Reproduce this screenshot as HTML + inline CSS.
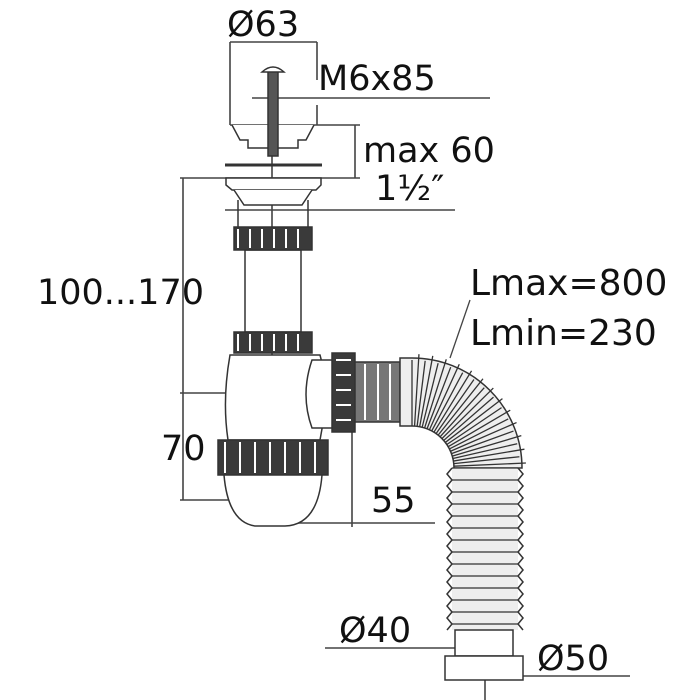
<!DOCTYPE html>
<html><head><meta charset="utf-8"><style>
html,body{margin:0;padding:0;background:#fff;width:673px;height:700px;overflow:hidden}
text{font-family:"DejaVu Sans","Liberation Sans",sans-serif;fill:#111}
</style></head><body>
<svg id="s" width="673" height="700" viewBox="0 0 673 700" xmlns="http://www.w3.org/2000/svg">
<g stroke="#444" stroke-width="1.6" fill="none">
<path d="M230 42H317M230 42V125M317 42V80M317 105V125"/>
<path d="M252 98H490"/>
<path d="M230 125H360M355 125V178M180 178H360"/>
<path d="M225 210H455"/>
<path d="M183 178V500M180 500H290M180 393H355"/>
<path d="M272 150V525M272 523H435M352 430V527"/>
<path d="M325 648H455M520 676H630"/>
<path d="M485 470V700"/>
<path d="M470 300L450 358" stroke-width="1.3"/>
</g>
<g stroke="#333" stroke-width="1.5" fill="#fff">
<path d="M232 125L240 140H248V148H298V140H306L314 125"/>
<rect x="268" y="70" width="10" height="86" fill="#555"/>
<path d="M262 72Q273 62 284 72Z" fill="#fff"/>
<path d="M225 165H322" stroke-width="3"/>
<path d="M226 178H321V185L316 190H232L226 185Z"/>
<path d="M234 190L244 205H302L312 190"/>
<path d="M238 200V228M308 200V228"/>
<rect x="245" y="250" width="56" height="82"/>
<rect x="234" y="227" width="78" height="23" fill="#3a3a3a"/>
<rect x="234" y="332" width="78" height="21" fill="#3a3a3a"/>
<path d="M230 355H320Q330 390 320 440H228Q222 400 230 355Z"/>
<path d="M312 360H335V428H312Q300 395 312 360Z"/>
<rect x="218" y="440" width="110" height="35" fill="#3a3a3a"/>
<path d="M224 475H322Q318 525 285 526H255Q228 522 224 475Z"/>
<rect x="332" y="353" width="23" height="79" fill="#3a3a3a"/>
<rect x="355" y="362" width="45" height="60" fill="#777"/>
<g id="ribs"></g>
<g id="vr"></g>
<rect x="455" y="630" width="58" height="26"/>
<rect x="445" y="656" width="78" height="24"/>
</g>
<g stroke="#fff" stroke-width="2">
<path d="M238 229V248M250 229V248M262 229V248M274 229V248M286 229V248M298 229V248"/>
<path d="M238 334V351M250 334V351M262 334V351M274 334V351M286 334V351M298 334V351"/>
<path d="M225 442V473M240 442V473M255 442V473M270 442V473M285 442V473M300 442V473M315 442V473"/>
<path d="M336 360H351M336 375H351M336 390H351M336 405H351M336 420H351"/>
<path d="M365 364V420M378 364V420M390 364V420"/>
</g>
<text x="227" y="36" font-size="35">Ø63</text>
<text x="318" y="90" font-size="35">M6x85</text>
<text x="363" y="162" font-size="35">max 60</text>
<text x="375" y="200" font-size="35">1½″</text>
<text x="37" y="304" font-size="35">100...170</text>
<text x="470" y="295" font-size="36">Lmax=800</text>
<text x="470" y="345" font-size="36">Lmin=230</text>
<text x="161" y="460" font-size="35">70</text>
<text x="371" y="512" font-size="35">55</text>
<text x="339" y="642" font-size="35">Ø40</text>
<text x="537" y="670" font-size="35">Ø50</text>
</svg>
<script>
var NS="http://www.w3.org/2000/svg";
function el(p,t,a){var e=document.createElementNS(NS,t);for(var k in a)e.setAttribute(k,a[k]);p.appendChild(e);return e;}
var r=document.getElementById("ribs"),cx=412,cy=468,ro=110,ri=42;
var d="M400 "+(cy-ro)+" L"+cx+" "+(cy-ro)+" A"+ro+" "+ro+" 0 0 1 "+(cx+ro)+" "+cy+" L"+(cx+ri)+" "+cy+" A"+ri+" "+ri+" 0 0 0 "+cx+" "+(cy-ri)+" L400 "+(cy-ri)+"Z";
el(r,"path",{d:d,fill:"#eee"});
for(var a=0;a<=90;a+=3.5){var t=a*Math.PI/180,s=Math.sin(t),c=Math.cos(t);
var ro2=ro+((Math.round(a/3.5)%2)?4:-2);
el(r,"line",{x1:cx+ri*s,y1:cy-ri*c,x2:cx+ro2*s,y2:cy-ro2*c,"stroke-width":1.3});}
var v=document.getElementById("vr");
el(v,"rect",{x:452,y:468,width:66,height:162,fill:"#eee",stroke:"none"});
var pl="",pr="";
for(var y=468;y<=630;y+=12){pl+=(y==468?"M":"L")+"452 "+y+" L447 "+(y+6)+" ";pr+=(y==468?"M":"L")+"518 "+y+" L523 "+(y+6)+" ";
el(v,"line",{x1:452,y1:y,x2:518,y2:y,"stroke-width":1.2});}
el(v,"path",{d:pl,fill:"none"});el(v,"path",{d:pr,fill:"none"});
</script>
</body></html>
